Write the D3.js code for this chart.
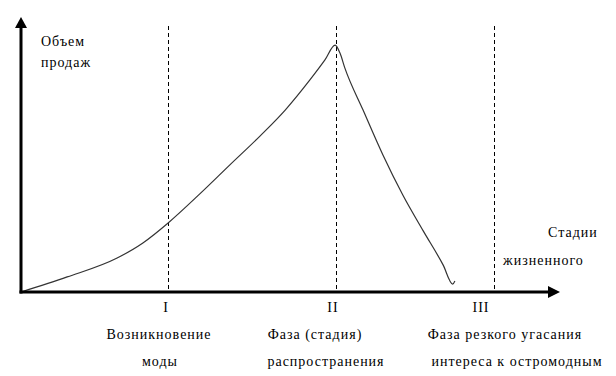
<!DOCTYPE html>
<html>
<head>
<meta charset="utf-8">
<script src="https://cdn.jsdelivr.net/npm/d3@7"></script>
<style>
  body { margin: 0; background: #fff; }
  svg text { font-family: "Liberation Serif", "Times New Roman", "DejaVu Serif", serif; font-size: 14px; letter-spacing: 1px; fill: #000; }
</style>
</head>
<body>
<svg id="chart" width="616" height="376"></svg>
<script>
// time (0..100) and sales volume (0..100)
let curveX = [0, 8.6, 17.9, 22.7, 27.4, 33.3, 38.9, 44.5, 49.2, 53.8, 56.6, 58.5, 59.4, 60.3, 63.7, 67.4, 71.1, 74.9, 78.6, 80.4, 80.8];
let curveY = [0, 5.5, 12.4, 17.9, 25.2, 35.8, 46.4, 56.9, 66.4, 77.4, 84.7, 90.1, 87.2, 81.8, 66.4, 50.0, 35.4, 22.3, 9.9, 2.9, 4.0];

// stage boundaries on the time axis
let stagePos = [27.4, 58.6, 88.1];
let stageNames = ["I", "II", "III"];
let numeralX = [166, 333, 481];
let stageLabel1 = ["Возникновение", "Фаза (стадия)", "Фаза резкого угасания"];
let stageLabel2 = ["моды", "распространения", "интереса к остромодным"];
let label1X = [159, 315, 505];
let label2X = [160, 326, 517];

let yTitle = ["Объем", "продаж"];
let xTitle = ["Стадии", "жизненного"];

let svg = d3.select("#chart");

let xScale = d3.scaleLinear().domain([0, 100]).range([21, 558]);
let yScale = d3.scaleLinear().domain([0, 100]).range([292, 18]);

let data = curveX.map((x, i) => ({ x: x, y: curveY[i] }));

// dashed stage lines
svg.selectAll("line.stage").data(stagePos).enter().append("line")
    .attr("class", "stage")
    .attr("x1", d => Math.round(xScale(d)) + 0.5)
    .attr("x2", d => Math.round(xScale(d)) + 0.5)
    .attr("y1", 26)
    .attr("y2", yScale(0))
    .attr("stroke", "#000")
    .attr("stroke-width", 1)
    .attr("stroke-dasharray", "4,3");

// curve
let line = d3.line()
    .x(d => xScale(d.x))
    .y(d => yScale(d.y))
    .curve(d3.curveMonotoneX);

svg.append("path")
    .attr("d", line(data))
    .attr("fill", "none")
    .attr("stroke", "#333")
    .attr("stroke-width", 1.2);

// axes with arrows
let x0 = xScale(0), y0 = yScale(0);
svg.append("line")
    .attr("x1", x0).attr("y1", y0 + 1.5)
    .attr("x2", x0).attr("y2", 26)
    .attr("stroke", "#000").attr("stroke-width", 3);
svg.append("path")
    .attr("d", `M${x0 - 6},${28} L${x0},${17} L${x0 + 6},${28} Z`)
    .attr("fill", "#000");

svg.append("line")
    .attr("x1", x0 - 1.5).attr("y1", y0)
    .attr("x2", 550).attr("y2", y0)
    .attr("stroke", "#000").attr("stroke-width", 3);
svg.append("path")
    .attr("d", `M${548},${y0 - 6} L${560},${y0} L${548},${y0 + 6} Z`)
    .attr("fill", "#000");

// axis titles
svg.selectAll("text.ytitle").data(yTitle).enter().append("text")
    .attr("class", "ytitle")
    .attr("x", 41)
    .attr("y", (d, i) => 46 + i * 21)
    .text(d => d);

svg.append("text").attr("x", 548).attr("y", 237).text(xTitle[0]);
svg.append("text").attr("x", 503).attr("y", 265).text(xTitle[1]);

// stage numerals and captions
svg.selectAll("text.num").data(stageNames).enter().append("text")
    .attr("class", "num")
    .attr("x", (d, i) => numeralX[i])
    .attr("y", 312)
    .attr("text-anchor", "middle")
    .text(d => d);

svg.selectAll("text.lab1").data(stageLabel1).enter().append("text")
    .attr("class", "lab1")
    .attr("x", (d, i) => label1X[i])
    .attr("y", 339)
    .attr("text-anchor", "middle")
    .text(d => d);

svg.selectAll("text.lab2").data(stageLabel2).enter().append("text")
    .attr("class", "lab2")
    .attr("x", (d, i) => label2X[i])
    .attr("y", 366)
    .attr("text-anchor", "middle")
    .text(d => d);
</script>
</body>
</html>
